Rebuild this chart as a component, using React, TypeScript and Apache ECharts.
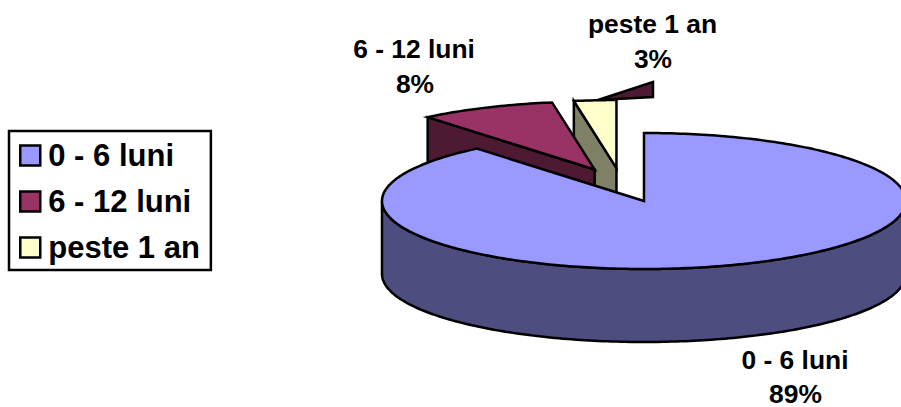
import React, { useEffect, useRef } from "react";
import * as echarts from "echarts";

const categories = ["0 - 6 luni", "6 - 12 luni", "peste 1 an"];
const values = [89, 8.4, 2.6];
const topColors = ["#9999FF", "#993366", "#FFFFCC"];
const wallColors = ["#4D4D80", "#4D1933", "#808066"];
const nameAnchors = [
  [795, 360],
  [414, 48.5],
  [652.5, 23.5],
];
const percentAnchors = [
  [795.5, 393.5],
  [415, 83.5],
  [653, 58.5],
];

const FONT = '"Liberation Sans", Arial, sans-serif';
const CX = 621.8;
const CY = 185;
const RX = 262;
const RY = 68;
const DEPTH = 73;
const EXPLODE = 0.25;
const STROKE = 2.5;

const total = values.reduce((a, b) => a + b, 0);
const spans = (() => {
  let acc = 0;
  return values.map((v) => {
    const start = (acc / total) * 360;
    acc += v;
    return [start, (acc / total) * 360];
  });
})();

const rad = (d: number) => (d * Math.PI) / 180;

function sliceShapes(i: number) {
  const [a0, a1] = spans[i];
  const mid = (a0 + a1) / 2;
  const ax = CX + EXPLODE * RX * Math.sin(rad(mid));
  const ay = CY - EXPLODE * RY * Math.cos(rad(mid));
  const at = (d: number, drop = 0) => [
    ax + RX * Math.sin(rad(d)),
    ay - RY * Math.cos(rad(d)) + drop,
  ];
  const arc = (from: number, to: number, drop = 0) => {
    const pts: number[][] = [];
    const n = Math.max(2, Math.ceil(Math.abs(to - from)));
    for (let k = 0; k <= n; k++) pts.push(at(from + ((to - from) * k) / n, drop));
    return pts;
  };
  const style = (fill: string) => ({
    fill,
    stroke: "#000",
    lineWidth: STROKE,
    lineJoin: "miter",
    miterLimit: 4,
  });
  const children: any[] = [];
  if (a0 > 1) {
    const left = at(a0);
    children.push({
      type: "polygon",
      shape: {
        points: [left, [ax, ay], [ax, ay + DEPTH], [left[0], left[1] + DEPTH]],
      },
      style: style(wallColors[i]),
    });
  }
  const f0 = Math.max(a0, 90);
  const f1 = Math.min(a1, 270);
  if (f1 > f0) {
    children.push({
      type: "polygon",
      shape: { points: [...arc(f0, f1), ...arc(f1, f0, DEPTH)] },
      style: style(wallColors[i]),
    });
  }
  children.push({
    type: "polygon",
    shape: { points: [[ax, ay], ...arc(a0, a1)] },
    style: style(topColors[i]),
  });
  return children;
}

const drawOrder = [2, 1, 0];

const labelText = (text: string, pos: number[]) => ({
  type: "text",
  z: 50,
  x: pos[0],
  y: pos[1],
  style: {
    text,
    x: 0,
    y: 0,
    fill: "#000",
    align: "center",
    verticalAlign: "middle",
    lineHeight: 20,
    font: `bold 26.4px ${FONT}`,
  },
});

export default function App() {
  const ref = useRef<HTMLDivElement>(null);
  useEffect(() => {
    document.body.style.margin = "0";
    const chart = echarts.init(ref.current!, undefined, { renderer: "svg" });
    chart.setOption({
      animation: false,
      backgroundColor: "#fff",
      legend: {
        orient: "vertical",
        left: 9,
        top: 131,
        data: categories,
        selectedMode: false,
        padding: [9, 11, 7, 10],
        itemGap: 15,
        itemWidth: 20,
        itemHeight: 20,
        backgroundColor: "#fff",
        borderColor: "#000",
        borderWidth: 2.5,
        borderRadius: 0,
        icon: "rect",
        itemStyle: { borderColor: "#000", borderWidth: 2.5 },
        textStyle: {
          fontFamily: FONT,
          fontWeight: "bold",
          fontSize: 31,
          color: "#000",
          padding: [0, 0, 0, 3],
        },
      },
      graphic: [
        {
          type: "polygon",
          z: 1,
          shape: {
            points: [
              [598, 100],
              [653, 82],
              [653, 97],
            ],
          },
          style: { fill: wallColors[1], stroke: "#000", lineWidth: STROKE },
        },
        ...categories.map((c, i) => labelText(c, nameAnchors[i])),
        ...categories.map((c, i) =>
          labelText(`${Math.round((values[i] / total) * 100)}%`, percentAnchors[i])
        ),
      ],
      series: drawOrder.map((i, order) => ({
        type: "custom",
        name: categories[i],
        coordinateSystem: "none",
        z: 5 + order,
        itemStyle: { color: topColors[i] },
        data: [values[i]],
        renderItem: () => ({ type: "group", children: sliceShapes(i) }),
      })),
    });
    return () => chart.dispose();
  }, []);
  return <div ref={ref} style={{ width: 901, height: 407 }} />;
}
